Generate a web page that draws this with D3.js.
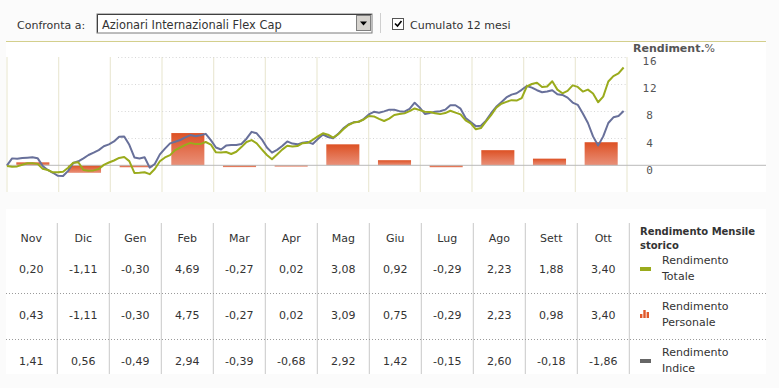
<!DOCTYPE html>
<html>
<head>
<meta charset="utf-8">
<script src="https://cdn.jsdelivr.net/npm/d3@7"></script>
<style>
  body { margin: 0; background: #fbfbfb; }
  svg { display: block; font-family: "DejaVu Sans", Verdana, sans-serif; }
</style>
</head>
<body>
<div id="chart"></div>
<script>
// months shown in chart and table
var months = ["Nov", "Dic", "Gen", "Feb", "Mar", "Apr", "Mag", "Giu", "Lug", "Ago", "Sett", "Ott"];

// monthly returns (table rows)
var rendTotale    = [0.20, -1.11, -0.30, 4.69, -0.27, 0.02, 3.08, 0.92, -0.29, 2.23, 1.88, 3.40];
var rendPersonale = [0.43, -1.11, -0.30, 4.75, -0.27, 0.02, 3.09, 0.75, -0.29, 2.23, 0.98, 3.40];
var rendIndice    = [1.41, 0.56, -0.49, 2.94, -0.39, -0.68, 2.92, 1.42, -0.15, 2.60, -0.18, -1.86];

// cumulative 12 month return, one sample every 3 days
var sampleDays = 3;
var cumTotale = [
  -0.10, -0.21, -0.16, 0.07, 0.29, 0.29, 0.21, -0.50, -0.69, -1.03,
  -1.03, -0.96, -0.37, 0.37, 0.46, -0.69, -0.80, -0.75, -0.55, 0.06,
  0.41, 0.71, 1.08, 1.21, 0.62, -1.12, -1.10, -1.02, -1.31, -0.55,
  0.59, 1.16, 1.50, 2.25, 2.62, 3.00, 3.30, 3.12, 3.15, 3.43,
  3.06, 1.91, 1.89, 1.96, 1.66, 2.00, 2.68, 3.43, 3.71, 3.23,
  2.36, 1.52, 0.90, 1.58, 2.31, 2.89, 2.78, 2.84, 3.26, 3.31,
  3.76, 4.26, 4.71, 4.51, 4.08, 4.58, 5.30, 5.94, 6.29, 6.42,
  6.75, 7.26, 7.20, 6.83, 6.53, 6.88, 7.42, 7.56, 7.65, 7.97,
  8.37, 8.13, 7.90, 7.85, 7.66, 7.54, 7.70, 8.04, 7.76, 7.51,
  6.63, 6.17, 5.30, 5.49, 6.47, 7.38, 8.48, 9.07, 9.35, 9.60,
  9.54, 9.90, 11.61, 11.98, 12.15, 11.52, 11.62, 12.39, 11.15, 10.61,
  10.96, 11.78, 11.55, 10.86, 11.15, 10.58, 9.29, 10.12, 12.34, 13.14,
  13.54, 14.41
];
var cumIndice = [
  0.00, 1.02, 0.96, 1.06, 1.13, 1.19, 1.05, -0.09, -0.69, -1.10,
  -1.55, -1.58, -0.82, 0.34, 0.59, 1.03, 1.52, 1.86, 2.24, 2.81,
  3.09, 3.51, 4.20, 4.24, 3.02, 1.16, 1.00, 1.19, -0.34, 0.19,
  1.61, 2.46, 3.23, 3.48, 3.73, 4.11, 4.45, 4.27, 4.43, 4.63,
  3.70, 2.62, 2.33, 2.90, 2.99, 2.99, 3.14, 3.92, 4.93, 4.71,
  3.83, 2.61, 1.87, 2.28, 2.84, 3.52, 3.20, 3.09, 3.34, 3.42,
  3.15, 3.87, 4.54, 4.17, 3.98, 4.63, 5.45, 6.01, 6.33, 6.41,
  6.82, 7.50, 7.88, 7.73, 7.95, 8.20, 8.19, 7.98, 7.90, 8.32,
  9.22, 8.50, 7.57, 7.72, 7.90, 7.97, 8.20, 8.85, 8.85, 8.34,
  6.98, 6.36, 5.77, 5.83, 6.58, 7.67, 8.62, 9.29, 9.99, 10.41,
  10.61, 11.12, 11.68, 11.45, 11.06, 10.77, 10.86, 11.06, 10.47, 10.36,
  9.97, 9.24, 8.91, 7.62, 6.23, 4.26, 2.92, 4.26, 6.23, 7.07,
  7.26, 8.00
];

var yTicks = [0, 4, 8, 12, 16];
var legendItems = [
  {name: ["Rendimento", "Totale"], type: "line", color: "#9aab1c"},
  {name: ["Rendimento", "Personale"], type: "bars", color: "#e0582a"},
  {name: ["Rendimento", "Indice"], type: "line", color: "#666666"}
];

var width = 779, height = 388;
var textColor = "#333";

var svg = d3.select("#chart").append("svg")
    .attr("width", width)
    .attr("height", height);

var defs = svg.append("defs");
var grad = defs.append("linearGradient")
    .attr("id", "barGrad")
    .attr("x1", 0).attr("y1", 0).attr("x2", 0).attr("y2", 1);
grad.append("stop").attr("offset", "0%").attr("stop-color", "#dd5124");
grad.append("stop").attr("offset", "100%").attr("stop-color", "#e99079");

svg.append("rect").attr("width", width).attr("height", height).attr("fill", "#fbfbfb");

// ---- top bar ----
var topBar = svg.append("g").style("font-size", "11px").attr("fill", textColor);
topBar.append("text").attr("x", 17).attr("y", 29).text("Confronta a:");

topBar.append("rect").attr("x", 97).attr("y", 14).attr("width", 275).attr("height", 19)
    .attr("fill", "#fff").attr("stroke", "#7a7a7a");
topBar.append("path").attr("d", "M97.5,32.5V14.5H371.5").attr("fill", "none").attr("stroke", "#404040");
topBar.append("text").attr("x", 102).attr("y", 28.5).style("font-size", "11.4px").text("Azionari Internazionali Flex Cap");
topBar.append("rect").attr("x", 356.5).attr("y", 15.5).attr("width", 14).attr("height", 15)
    .attr("fill", "#d6d3ce").attr("stroke", "#808080");
topBar.append("path").attr("d", "M360,21.5h7l-3.5,4z").attr("fill", "#000");

topBar.append("line").attr("x1", 380.5).attr("x2", 380.5).attr("y1", 13).attr("y2", 33).attr("stroke", "#cfcfcf");

topBar.append("rect").attr("x", 392.5).attr("y", 18.5).attr("width", 11).attr("height", 11)
    .attr("fill", "#fff").attr("stroke", "#555");
topBar.append("path").attr("d", "M395,23.5l2.5,2.5l4,-5").attr("fill", "none").attr("stroke", "#000").attr("stroke-width", 1.6);
topBar.append("text").attr("x", 410).attr("y", 29).text("Cumulato 12 mesi");

svg.append("line").attr("x1", 6).attr("x2", 766).attr("y1", 41.5).attr("y2", 41.5)
    .attr("stroke", "#d3cf8c");

// ---- chart ----
svg.append("rect").attr("x", 6).attr("y", 42).attr("width", 760).attr("height", 150).attr("fill", "#fff");

var x = d3.scaleLinear().domain([0, 365]).range([7, 627]);
var xb = d3.scaleBand().domain(months).range([7, 627]).paddingInner(0.36).paddingOuter(0.18);
var y = d3.scaleLinear().domain([0, 16]).range([165.3, 56.7]);

var plot = svg.append("g");

plot.selectAll(".vgrid")
    .data(d3.range(months.length + 1))
    .enter().append("line")
    .attr("class", "vgrid")
    .attr("x1", function (d) { return 7 + d * xb.step(); })
    .attr("x2", function (d) { return 7 + d * xb.step(); })
    .attr("y1", 57).attr("y2", 192)
    .attr("stroke", "#ebe9d6")
    .attr("stroke-width", 1.2);

plot.selectAll(".hgrid")
    .data(yTicks.filter(function (d) { return d !== 0; }))
    .enter().append("line")
    .attr("class", "hgrid")
    .attr("x1", 118).attr("x2", 627)
    .attr("y1", function (d) { return Math.round(y(d)) + 0.5; })
    .attr("y2", function (d) { return Math.round(y(d)) + 0.5; })
    .attr("stroke", "#d6d6d6")
    .attr("stroke-dasharray", "1,2.4");

plot.selectAll(".bar")
    .data(rendPersonale)
    .enter().append("rect")
    .attr("class", "bar")
    .attr("x", function (d, i) { return xb(months[i]); })
    .attr("width", xb.bandwidth())
    .attr("y", function (d) { return y(Math.max(0, d)); })
    .attr("height", function (d) { return Math.max(1.5, Math.abs(y(d) - y(0))); })
    .attr("fill", "url(#barGrad)");

plot.append("line")
    .attr("x1", 6).attr("x2", 766)
    .attr("y1", y(0)).attr("y2", y(0))
    .attr("stroke", "#b9b9b9");

var line = d3.line()
    .x(function (d, i) { return x(i * sampleDays); })
    .y(function (d) { return y(d); });

plot.append("path")
    .datum(cumIndice)
    .attr("d", line)
    .attr("fill", "none")
    .attr("stroke", "#68709a")
    .attr("stroke-width", 2)
    .attr("stroke-linejoin", "round");

plot.append("path")
    .datum(cumTotale)
    .attr("d", line)
    .attr("fill", "none")
    .attr("stroke", "#9aab1c")
    .attr("stroke-width", 2)
    .attr("stroke-linejoin", "round");

var yAxis = d3.axisRight(y).tickValues(yTicks).tickSize(0).tickPadding(0);
var yg = plot.append("g")
    .attr("transform", "translate(650,0)")
    .call(yAxis);
yg.select(".domain").remove();
yg.selectAll("text")
    .attr("text-anchor", "middle")
    .attr("dy", "0.35em")
    .attr("y", 4)
    .style("font-family", "'DejaVu Sans Mono', monospace")
    .style("font-size", "11px")
    .style("letter-spacing", "1px")
    .attr("fill", "#555");

var yTitle = plot.append("text").attr("x", 633).attr("y", 52)
    .style("font-size", "11px").attr("fill", "#555");
yTitle.append("tspan").style("font-weight", "bold").text("Rendiment.");
yTitle.append("tspan").text("%");

// ---- table ----
svg.append("rect").attr("x", 6).attr("y", 209).attr("width", 760).attr("height", 165).attr("fill", "#fff");

var tx = d3.scaleBand().domain(months).range([5.3, 629.3]);
var table = svg.append("g").style("font-size", "11px").attr("fill", textColor);

table.selectAll(".sep")
    .data(d3.range(1, months.length + 1))
    .enter().append("line")
    .attr("class", "sep")
    .attr("x1", function (d) { return 5.3 + d * tx.step(); })
    .attr("x2", function (d) { return 5.3 + d * tx.step(); })
    .attr("y1", 223).attr("y2", 374)
    .attr("stroke", "#c8c8c8");

[293.5, 339.5].forEach(function (yy) {
    table.append("line")
        .attr("x1", 6).attr("x2", 766).attr("y1", yy).attr("y2", yy)
        .attr("stroke", "#9a9a9a").attr("stroke-dasharray", "1,2");
});

table.selectAll(".mlabel")
    .data(months)
    .enter().append("text")
    .attr("class", "mlabel")
    .attr("x", function (d) { return tx(d) + tx.bandwidth() / 2; })
    .attr("y", 242)
    .attr("text-anchor", "middle")
    .text(function (d) { return d; });

var fmt = function (v) { return d3.format(".2f")(v).replace(".", ",").replace("−", "-"); };
[rendTotale, rendPersonale, rendIndice].forEach(function (rowData, r) {
    table.selectAll(".row" + r)
        .data(rowData)
        .enter().append("text")
        .attr("x", function (d, i) { return tx(months[i]) + tx.bandwidth() / 2; })
        .attr("y", 272.5 + r * 46)
        .attr("text-anchor", "middle")
        .text(fmt);
});

// legend column
var lg = table.append("g");
lg.append("text").attr("x", 640).attr("y", 235).style("font-weight", "bold").style("font-size", "10px")
    .text("Rendimento Mensile");
lg.append("text").attr("x", 640).attr("y", 249).style("font-weight", "bold").style("font-size", "10px")
    .text("storico");

legendItems.forEach(function (item, i) {
    var cy = 269 + i * 46;
    if (item.type === "line") {
        lg.append("rect").attr("x", 640).attr("y", cy - 2).attr("width", 11).attr("height", 4).attr("fill", item.color);
    } else {
        [[0, 4], [3.3, 8], [6.6, 6]].forEach(function (b) {
            lg.append("rect").attr("x", 640 + b[0]).attr("y", cy + 3 - b[1]).attr("width", 2.4).attr("height", b[1])
                .attr("fill", item.color);
        });
    }
    lg.append("text").attr("x", 662).attr("y", cy - 5).text(item.name[0]);
    lg.append("text").attr("x", 662).attr("y", cy + 11).text(item.name[1]);
});
</script>
</body>
</html>
